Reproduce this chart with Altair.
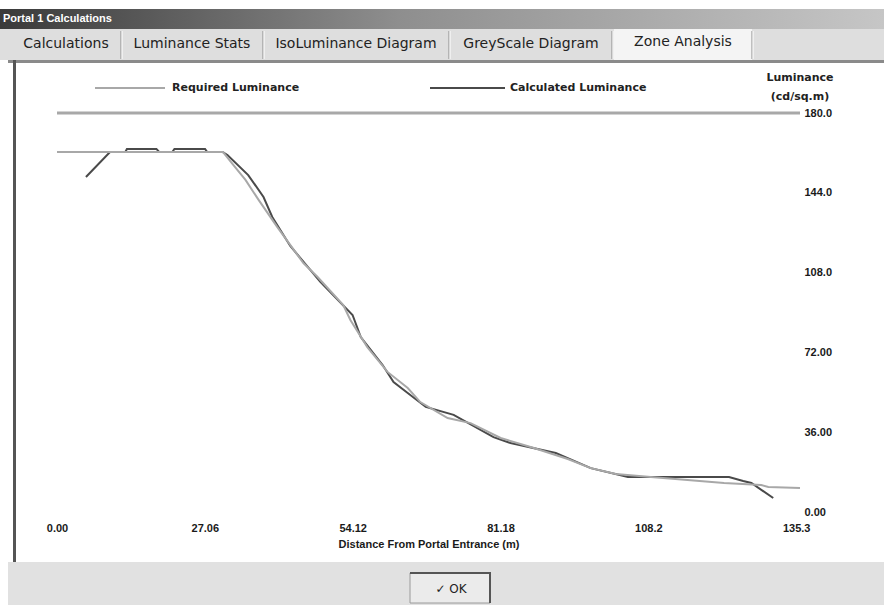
import altair as alt
import pandas as pd

# ---- data ----
series_names = ["Required Luminance", "Calculated Luminance"]

req_x = [0, 30.4, 32.3, 34.5, 36.9, 40.3, 45.1, 47.7, 52.4, 53.7, 56.8, 60.5, 64.2,
         66.5, 71.5, 75.7, 81.2, 87.3, 93.5, 97.7, 102.3, 108.7, 122.1, 128.9, 130.2, 136.0]
req_y = [162.4, 162.4, 156.5, 149.8, 140.8, 128.6, 112.3, 106.0, 93.4, 86.6, 74.4, 63.2, 55.9,
         49.6, 42.4, 40.1, 33.4, 28.9, 23.9, 19.8, 17.1, 15.8, 13.1, 12.2, 11.3, 10.8]

calc_x = [5.3, 9.7, 12.5, 12.8, 18.2, 18.7, 21.1, 21.5, 27.1, 27.5, 30.3, 31.2, 35.0, 37.8,
          39.4, 42.7, 48.2, 54.1, 55.6, 59.6, 61.6, 67.5, 72.6, 79.9, 83.0, 91.3, 97.7, 104.5,
          123.0, 125.6, 127.1, 131.1]
calc_y = [151.1, 162.4, 162.4, 163.8, 163.8, 162.4, 162.4, 163.8, 163.8, 162.4, 162.4, 161.0,
          152.0, 142.1, 133.1, 120.0, 103.8, 88.9, 78.9, 66.3, 58.6, 47.4, 43.8, 33.8, 31.1,
          26.6, 19.8, 15.8, 15.8, 14.0, 13.1, 6.3]

x_ticks = [0, 27.06, 54.12, 81.18, 108.24, 135.3]
y_ticks = [0, 36, 72, 108, 144, 180]
top_level = 180

window_title = "Portal 1 Calculations"
tab_names = ["Calculations", "Luminance Stats", "IsoLuminance Diagram", "GreyScale Diagram", "Zone Analysis"]
x_title = "Distance From Portal Entrance (m)"
y_title = ["Luminance", "(cd/sq.m)"]
ok_text = "\u2713 OK"

df = pd.DataFrame(
    {"x": req_x + calc_x,
     "y": req_y + calc_y,
     "series": [series_names[0]] * len(req_x) + [series_names[1]] * len(calc_x)}
)

# ---- layout ----
W, H = 743, 399
PAD = {"left": 57, "top": 113, "right": 84, "bottom": 93}
OX, OY = PAD["left"], PAD["top"]  # plot origin in page pixels

one = alt.Data(values=[{}])


def rect(x0, y0, x1, y1, **kw):
    return alt.Chart(one).mark_rect(**kw).encode(
        x=alt.value(x0 - OX), x2=alt.value(x1 - OX),
        y=alt.value(y0 - OY), y2=alt.value(y1 - OY))


def text(t, x, y, **kw):
    return alt.Chart(one).mark_text(text=t, **kw).encode(
        x=alt.value(x - OX), y=alt.value(y - OY))


def hline(x0, x1, y, color, w=1):
    return alt.Chart(one).mark_rule(color=color, strokeWidth=w).encode(
        x=alt.value(x0 - OX), x2=alt.value(x1 - OX), y=alt.value(y - OY))


def vline(x, y0, y1, color, w=1):
    return alt.Chart(one).mark_rule(color=color, strokeWidth=w).encode(
        x=alt.value(x - OX), y=alt.value(y0 - OY), y2=alt.value(y1 - OY))


layers = []
# window chrome
grad = alt.LinearGradient(
    gradient="linear",
    stops=[alt.GradientStop(color="#3a3a3a", offset=0),
           alt.GradientStop(color="#8e8e8e", offset=0.45),
           alt.GradientStop(color="#c6c6c6", offset=1)],
    x1=0, x2=1, y1=0, y2=0)
layers.append(rect(0, 9, 884, 29, color=grad))
layers.append(text(window_title, 3, 19, font="Liberation Sans", fontSize=11, fontWeight="bold",
                   color="white", align="left", baseline="middle"))
layers.append(rect(0, 29, 884, 60, color="#dedede"))
layers.append(rect(614, 29, 752, 60, color="#f4f4f4"))
seps = [121, 263, 449, 612, 752]
for sx in seps:
    layers.append(vline(sx, 31, 59, "#8a8a8a", 1))
    layers.append(vline(sx + 1, 31, 59, "#ffffff", 1))
tab_centers = [66, 192, 356, 531, 683]
for name, cx in zip(tab_names, tab_centers):
    layers.append(text(name, cx, 44 if name != tab_names[-1] else 42, font="DejaVu Sans",
                       fontSize=14, color="#222222", align="center", baseline="middle"))
layers.append(rect(8, 60, 884, 63, color="#8a8a8a"))
layers.append(rect(8, 63, 884, 562, color="white"))
layers.append(rect(13, 60, 16, 562, color="#555555"))
layers.append(rect(8, 562, 884, 605, color="#e1e1e1"))
# OK button
layers.append(rect(410, 573, 490, 603, color="#ebebeb", stroke="#9a9a9a", strokeWidth=1))
layers.append(hline(410, 491, 573, "#555555", 2))
layers.append(vline(490, 573, 603, "#555555", 2))
layers.append(text(ok_text, 451, 589, font="DejaVu Sans", fontSize=12, color="#222222",
                   align="center", baseline="middle"))

# legend (manual)
layers.append(hline(95, 165, 88, "#a8a8a8", 2))
layers.append(text(series_names[0], 172, 88, font="DejaVu Sans", fontSize=11, fontWeight="bold",
                   color="#222222", align="left", baseline="middle"))
layers.append(hline(430, 505, 88, "#4a4a4a", 2))
layers.append(text(series_names[1], 510, 88, font="DejaVu Sans", fontSize=11, fontWeight="bold",
                   color="#222222", align="left", baseline="middle"))
# y title
layers.append(text(y_title[0], 800, 78, font="DejaVu Sans", fontSize=11, fontWeight="bold",
                   color="#222222", align="center", baseline="middle"))
layers.append(text(y_title[1], 800, 97, font="DejaVu Sans", fontSize=11, fontWeight="bold",
                   color="#222222", align="center", baseline="middle"))

label_expr = "datum.value < 100 ? format(datum.value, '.2f') : format(datum.value, '.1f')"
x_enc = alt.X("x:Q", scale=alt.Scale(domain=[0, 136], nice=False, zero=False),
              axis=alt.Axis(values=x_ticks, labelExpr=label_expr, ticks=False, domain=False,
                            grid=False, labelPadding=10, title=x_title, titlePadding=5,
                            labelFont="Liberation Sans", labelFontSize=11, labelFontWeight="bold",
                            labelColor="#1a1a1a", titleFont="Liberation Sans", titleFontSize=11,
                            titleFontWeight="bold", titleColor="#1a1a1a", labelFlush=False,
                            zindex=2))
y_enc = alt.Y("y:Q", scale=alt.Scale(domain=[0, 180], nice=False, zero=False),
              axis=alt.Axis(orient="right", values=y_ticks, labelExpr=label_expr, ticks=False,
                            domain=False, grid=False, labelPadding=4, title=None,
                            labelAlign="left", labelBaseline="middle",
                            labelFont="Liberation Sans", labelFontSize=11, labelFontWeight="bold",
                            labelColor="#1a1a1a", labelFlush=False, zindex=2))

# top reference line
layers.append(alt.Chart(one).mark_rule(color="#a8a8a8", strokeWidth=3).encode(
    y=alt.datum(top_level, scale=alt.Scale(domain=[0, 180], nice=False, zero=False)),
    x=alt.value(0), x2=alt.value(W)))

calc_layer = alt.Chart(df).transform_filter(
    alt.datum.series == series_names[1]).mark_line(color="#4a4a4a", strokeWidth=2).encode(
    x=x_enc, y=y_enc)
req_layer = alt.Chart(df).transform_filter(
    alt.datum.series == series_names[0]).mark_line(color="#a8a8a8", strokeWidth=2).encode(
    x=x_enc, y=y_enc)
layers += [calc_layer, req_layer]

chart = alt.layer(*layers).properties(
    width=W, height=H,
    padding=PAD,
    autosize=alt.AutoSizeParams(type="none"),
    background="white",
).configure_view(stroke=None)

chart.save("out.html", embed_options={"renderer": "svg", "actions": False})
